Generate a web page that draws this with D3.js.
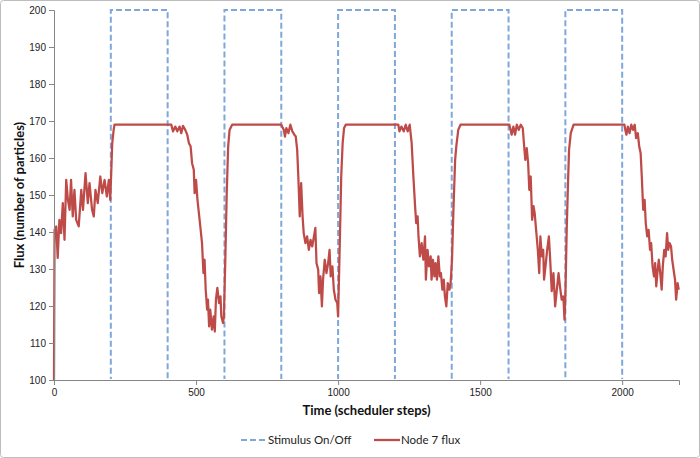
<!DOCTYPE html>
<html>
<head>
<meta charset="utf-8">
<script src="https://cdn.jsdelivr.net/npm/d3@7"></script>
<style>
  body { margin: 0; background: #fff; }
  svg { display: block; font-family: Lato, "Open Sans", sans-serif; }
</style>
</head>
<body>
<div id="chart"></div>
<script>
// stimulus on/off square wave (low = 100, high = 200)
var stimSteps  = [0, 200, 200, 400, 400, 600, 600, 800, 800, 1000, 1000, 1200, 1200, 1400, 1400, 1600, 1600, 1800, 1800, 2000, 2000];
var stimValues = [100, 100, 200, 200, 100, 100, 200, 200, 100, 100, 200, 200, 100, 100, 200, 200, 100, 100, 200, 200, 100];

// node 7 flux
var fluxSteps = [
  0, 2, 8, 13, 19, 25, 31, 37, 43, 49, 55, 60, 66, 72, 78, 87, 96, 102, 111, 119, 125, 134, 140, 146, 154, 163, 170, 178, 186, 193, 198, 201, 205, 210, 213,
  413, 419, 427, 434, 442, 448, 454, 462, 469, 475, 481, 486, 492, 495, 500, 505, 510, 515, 521, 526, 530, 534, 539, 542, 546, 550, 556, 562, 566, 570, 575, 581, 586, 589, 595, 598, 603, 608, 613, 618, 627,
  800, 809, 813, 818, 825, 832, 839, 846, 851, 856, 860, 865, 870, 875, 879, 885, 891, 897, 903, 909, 915, 920, 924, 930, 933, 938, 943, 947, 953, 959, 965, 970, 974, 980, 985, 991, 997, 1000, 1006, 1011, 1016, 1021, 1027,
  1212, 1216, 1223, 1231, 1238, 1245, 1252, 1259, 1265, 1271, 1275, 1280, 1283, 1288, 1294, 1300, 1306, 1309, 1315, 1320, 1326, 1329, 1334, 1339, 1343, 1348, 1353, 1358, 1362, 1367, 1372, 1376, 1381, 1386, 1392, 1396, 1401, 1406, 1412, 1416, 1423, 1431,
  1603, 1611, 1617, 1623, 1629, 1636, 1643, 1650, 1655, 1659, 1664, 1669, 1673, 1678, 1683, 1688, 1692, 1697, 1703, 1708, 1712, 1717, 1722, 1725, 1730, 1736, 1742, 1746, 1752, 1758, 1764, 1770, 1776, 1781, 1787, 1793, 1797, 1800, 1805, 1810, 1813, 1819, 1829,
  2008, 2011, 2015, 2020, 2026, 2032, 2038, 2044, 2049, 2055, 2060, 2065, 2069, 2074, 2079, 2083, 2088, 2093, 2098, 2102, 2107, 2112, 2116, 2120, 2125, 2129, 2134, 2139, 2143, 2148, 2153, 2158, 2162, 2167, 2172, 2176, 2181, 2186, 2190, 2195, 2199
];
var fluxValues = [
  100, 140.6, 141.5, 133, 143.3, 139.7, 147.8, 137.9, 154.1, 148.7, 146, 154.1, 144.2, 151.4, 143.3, 141.5, 151.4, 146, 155.9, 147.8, 153.2, 146, 144.2, 151.4, 147.8, 155, 150.5, 154.1, 149.6, 154.1, 148.7, 155, 164, 167.6, 169,
  169, 167.2, 168.5, 167.2, 168.5, 166.7, 168.7, 167.6, 166.3, 164, 163.1, 158.6, 156.8, 150.5, 154.1, 148.7, 145.1, 141.5, 137, 128.9, 132.5, 124.4, 119, 121.7, 114.5, 119, 113.6, 117.2, 113.1, 121.7, 124.9, 120.8, 122.6, 117.2, 115.4, 117.2, 132.5, 150.5, 163.1, 167.6, 169,
  169, 167.6, 165.8, 168.1, 166.7, 169, 167.2, 166.3, 165.8, 162.2, 155, 144.2, 153.2, 144.2, 139.7, 137, 138.8, 135.2, 137.9, 136.1, 138.8, 141.1, 131.6, 129.8, 123.5, 128, 119.9, 127.1, 132.5, 128.9, 131.6, 135.2, 128, 130.7, 124.4, 121.7, 120.8, 117.2, 137, 155, 164, 168.1, 169,
  169, 167.2, 168.5, 167.2, 169, 167.2, 169, 164, 155, 147, 142.4, 144.2, 138.8, 133.4, 137, 132.5, 138.8, 127.1, 135.2, 130.7, 133.4, 127.1, 132.5, 128, 131.6, 127.1, 133.4, 128, 128.9, 124.4, 127.1, 122.6, 119.9, 126.2, 124.4, 126.2, 132.5, 146, 159.5, 163.1, 167.6, 169,
  169, 166.3, 168.5, 166.3, 169, 167.6, 169, 168.1, 163.1, 159.5, 162.7, 158.6, 151.4, 155, 143.3, 147, 145.1, 140.6, 135.2, 128.9, 138.8, 133.4, 135.2, 127.1, 130.7, 135.2, 138.8, 133.4, 124, 128.9, 119.9, 124.4, 128.9, 125.3, 121.7, 122.6, 116.3, 122.6, 141.5, 155, 162.2, 166.7, 169,
  169, 167.6, 166.3, 168.5, 166.7, 169, 167.6, 169, 165.4, 166.7, 163.1, 161.3, 155, 146, 148.7, 142.4, 138.8, 140.6, 135.2, 137, 130.7, 128, 131.6, 125.3, 129.8, 132.5, 128.9, 124.4, 130.7, 135.2, 133.4, 139.7, 135.2, 137, 136.1, 132.5, 129.8, 127.1, 121.7, 126.2, 124.4
];

var xTicks = [0, 500, 1000, 1500, 2000];
var yTicks = [100, 110, 120, 130, 140, 150, 160, 170, 180, 190, 200];

var width = 700, height = 458;
var margin = { top: 10, right: 21, bottom: 78, left: 54 };
var plotW = width - margin.left - margin.right,
    plotH = height - margin.top - margin.bottom;

var stimColor = "#7FA7D9",
    fluxColor = "#BE4B48",
    axisColor = "#868686";

var svg = d3.select("#chart").append("svg")
  .attr("width", width).attr("height", height);

// outer chart border
svg.append("rect")
  .attr("x", 0.5).attr("y", 0.5)
  .attr("width", width - 1).attr("height", height - 1)
  .attr("rx", 3)
  .attr("fill", "#fff")
  .attr("stroke", "#BDBDBD");

var x = d3.scaleLinear().domain([0, 2200]).range([0, plotW]);
var y = d3.scaleLinear().domain([100, 200]).range([plotH, 0]);

var g = svg.append("g")
  .attr("transform", "translate(" + margin.left + "," + margin.top + ")");

svg.append("clipPath").attr("id", "plotclip")
  .append("rect").attr("x", -2).attr("y", -2)
  .attr("width", plotW + 4).attr("height", plotH + 1);

var line = d3.line()
  .x(function (d) { return x(d[0]); })
  .y(function (d) { return y(d[1]); });

var stimData = stimSteps.map(function (s, i) { return [s, stimValues[i]]; });
var fluxData = fluxSteps.map(function (s, i) { return [s, fluxValues[i]]; });

// stimulus dashes
g.append("path")
  .datum(stimData)
  .attr("clip-path", "url(#plotclip)")
  .attr("fill", "none")
  .attr("stroke", stimColor)
  .attr("stroke-width", 2)
  .attr("stroke-dasharray", "6,3")
  .attr("d", line);

// node 7 flux
g.append("path")
  .datum(fluxData)
  .attr("fill", "none")
  .attr("stroke", fluxColor)
  .attr("stroke-width", 2.25)
  .attr("stroke-linejoin", "round")
  .attr("d", line);

// axes
var yAxis = g.append("g")
  .call(d3.axisLeft(y).tickValues(yTicks).tickSize(5).tickPadding(3));
var xAxis = g.append("g")
  .attr("transform", "translate(0," + plotH + ")")
  .call(d3.axisBottom(x).tickValues(xTicks).tickSize(5).tickPadding(4).tickFormat(d3.format("d")));

[xAxis, yAxis].forEach(function (a) {
  a.select(".domain").attr("stroke", axisColor);
  a.selectAll(".tick line").attr("stroke", axisColor);
  a.selectAll(".tick text").attr("fill", "#222").style("font-size", "10px");
});

// axis titles
svg.append("text")
  .attr("x", margin.left + plotW / 2)
  .attr("y", 415)
  .attr("text-anchor", "middle")
  .style("font-size", "13px")
  .style("font-weight", "bold")
  .attr("fill", "#111")
  .text("Time (scheduler steps)");

svg.append("text")
  .attr("transform", "translate(24," + (margin.top + plotH / 2) + ") rotate(-90)")
  .attr("text-anchor", "middle")
  .style("font-size", "13px")
  .style("font-weight", "bold")
  .attr("fill", "#111")
  .text("Flux (number of particles)");

// legend
var legend = svg.append("g").attr("transform", "translate(0,440)");
legend.append("line")
  .attr("x1", 241).attr("x2", 265).attr("y1", 0).attr("y2", 0)
  .attr("stroke", stimColor).attr("stroke-width", 2).attr("stroke-dasharray", "6,3");
legend.append("text")
  .attr("x", 268).attr("y", 4)
  .style("font-size", "11.5px").attr("fill", "#222")
  .text("Stimulus On/Off");
legend.append("line")
  .attr("x1", 374).attr("x2", 400).attr("y1", 0).attr("y2", 0)
  .attr("stroke", fluxColor).attr("stroke-width", 2.25);
legend.append("text")
  .attr("x", 401).attr("y", 4)
  .style("font-size", "11.5px").attr("fill", "#222")
  .text("Node 7 flux");
</script>
</body>
</html>
